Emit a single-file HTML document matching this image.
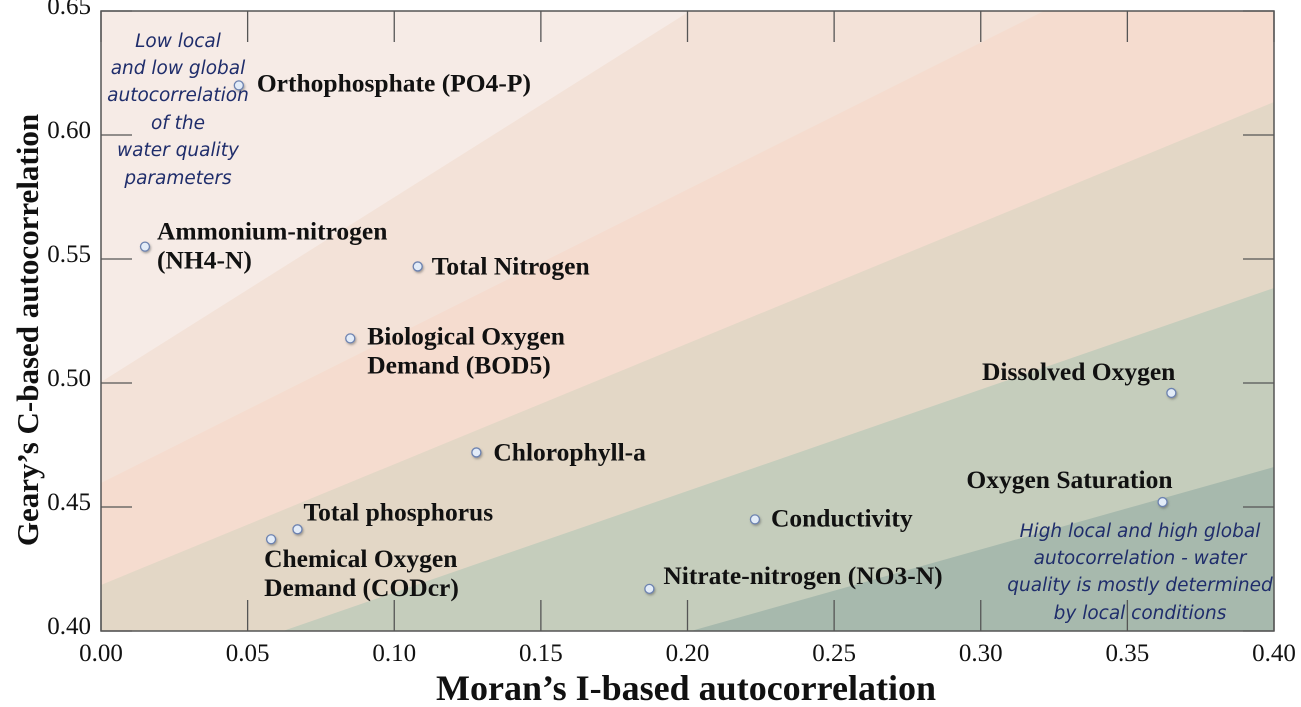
<!DOCTYPE html>
<html><head><meta charset="utf-8"><style>
body{margin:0;background:#fff;}
svg{display:block;}
.tk{font-family:"Liberation Serif",serif;font-size:25px;fill:#111;}
.lb{font-family:"Liberation Serif",serif;font-size:25.5px;font-weight:bold;fill:#111;}
.an{font-family:"DejaVu Sans","Liberation Sans",sans-serif;font-style:italic;font-size:18.5px;fill:#1f2d6b;}
.at{font-family:"Liberation Serif",serif;font-weight:bold;fill:#111;}
</style></head><body>
<svg id="chart" width="1301" height="707">
<defs><filter id="sh" x="-50%" y="-50%" width="200%" height="200%"><feDropShadow dx="1" dy="1.5" stdDeviation="1" flood-color="#555" flood-opacity="0.5"/></filter></defs>
<g id="bands"></g>
<g id="axes"></g>
<g id="pts"></g>
<g>
<text class="an" text-anchor="middle" x="178" y="47">Low local</text>
<text class="an" text-anchor="middle" x="178" y="74">and low global</text>
<text class="an" text-anchor="middle" x="178" y="101">autocorrelation</text>
<text class="an" text-anchor="middle" x="178" y="129">of the</text>
<text class="an" text-anchor="middle" x="178" y="156">water quality</text>
<text class="an" text-anchor="middle" x="178" y="184">parameters</text>
</g>
<g>
<text class="an" text-anchor="middle" x="1140" y="537">High local and high global</text>
<text class="an" text-anchor="middle" x="1140" y="564">autocorrelation - water</text>
<text class="an" text-anchor="middle" x="1140" y="591">quality is mostly determined</text>
<text class="an" text-anchor="middle" x="1140" y="619">by local conditions</text>
</g>
<text class="at" x="686" y="700" text-anchor="middle" style="font-size:36px">Moran’s I-based autocorrelation</text>
<text class="at" transform="translate(38,330) rotate(-90)" text-anchor="middle" style="font-size:31px">Geary’s C-based autocorrelation</text>
</svg>
<script>
const names=["Orthophosphate (PO4-P)","Ammonium-nitrogen|(NH4-N)","Total Nitrogen","Biological Oxygen|Demand (BOD5)","Chlorophyll-a","Total phosphorus","Chemical Oxygen|Demand (CODcr)","Nitrate-nitrogen (NO3-N)","Conductivity","Dissolved Oxygen","Oxygen Saturation"];
const moranI=[0.047,0.015,0.108,0.085,0.128,0.067,0.058,0.187,0.223,0.365,0.362];
const gearyC=[0.620,0.555,0.547,0.518,0.472,0.441,0.437,0.417,0.445,0.496,0.452];
const xTicks=["0.00","0.05","0.10","0.15","0.20","0.25","0.30","0.35","0.40"];
const yTicks=["0.40","0.45","0.50","0.55","0.60","0.65"];
const L=101,R=1274,T=11,B=631;
const X=v=>L+(v-0)/0.4*(R-L), Y=v=>B-(v-0.40)/0.25*(B-T);
const NS="http://www.w3.org/2000/svg";
function mk(t,a,p){const e=document.createElementNS(NS,t);for(const k in a)e.setAttribute(k,a[k]);p.appendChild(e);return e;}
const bands=document.getElementById('bands');
mk('rect',{x:L,y:T,width:R-L,height:B-T,fill:'#f6ebe6'},bands);
const lines=[[[L,382],[690,T]],[[L,483],[1044,T]],[[L,585],[R,102]],[[283,B],[R,288]],[[691,B],[R,467]]];
const cols=['#f3e2d8','#f5dccf','#e3d7c6','#c5cdbc','#a7b9ad'];
lines.forEach((ln,i)=>{const [a,b]=ln;let pts=[a,b];
 if(b[1]==T){pts.push([R,T]);}
 pts.push([R,B]);if(a[0]==L)pts.push([L,B]);
 const p=mk('polygon',{points:pts.map(q=>q.join(',')).join(' '),fill:cols[i]},bands);
 
 });
const ax=document.getElementById('axes');
mk('rect',{x:L,y:T,width:R-L,height:B-T,fill:'none',stroke:'#555','stroke-width':1.5},ax);
xTicks.forEach(t=>{const x=X(+t);
 mk('line',{x1:x,x2:x,y1:T,y2:T+31,stroke:'#555','stroke-width':1.3},ax);
 mk('line',{x1:x,x2:x,y1:B,y2:B-31,stroke:'#555','stroke-width':1.3},ax);
 const e=mk('text',{x:x,y:661,'text-anchor':'middle',class:'tk'},ax);e.textContent=t;
 
 });
yTicks.forEach(t=>{const y=Y(+t);
 mk('line',{x1:L,x2:L+31,y1:y,y2:y,stroke:'#555','stroke-width':1.3},ax);
 mk('line',{x1:R,x2:R-31,y1:y,y2:y,stroke:'#555','stroke-width':1.3},ax);
 const e=mk('text',{x:91,y:y+3,'text-anchor':'end',class:'tk'},ax);e.textContent=t;
 
 });
const offs=[[18,6,'start'],[12,-7,'start'],[14,8,'start'],[17,6,'start'],[17,8,'start'],[6,-9,'start'],[-7,28,'start'],[14,-5,'start'],[16,7,'start'],[4,-13,'end'],[10,-14,'end']];
const pg=document.getElementById('pts');
names.forEach((n,i)=>{const x=X(moranI[i]),y=Y(gearyC[i]);
 const c=mk('circle',{cx:x,cy:y,r:4.5,fill:'#e3ecf8',stroke:'#6c82b0','stroke-width':1.3,filter:'url(#sh)'},pg);
 
 
 const [dx,dy,an]=offs[i];
 n.split('|').forEach((s,j)=>{const t=mk('text',{x:x+dx,y:y+dy+j*29,'text-anchor':an,class:'lb'},pg);t.textContent=s;
  
  });
});
</script>
</body></html>
